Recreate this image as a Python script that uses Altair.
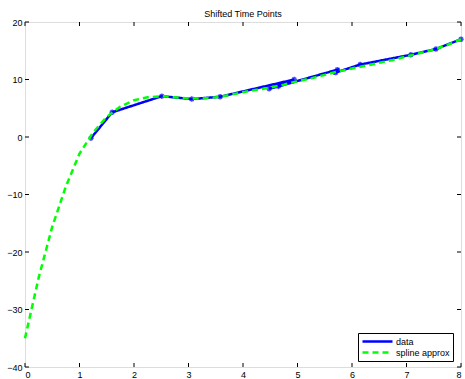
import altair as alt
import pandas as pd

# data series (shifted time points, not sorted)
data_t = [1.21, 1.60, 2.51, 3.06, 3.58, 4.94, 4.48, 4.65, 5.73, 5.70, 6.15, 7.08, 7.54, 8.00]
data_y = [-0.2, 4.3, 7.1, 6.6, 7.0, 10.0, 8.4, 8.8, 11.7, 11.2, 12.6, 14.3, 15.3, 17.0]

# spline approximation
spl_t = [0, 0.25, 0.5, 0.75, 1.0, 1.25, 1.5, 1.75, 2.0, 2.25, 2.5, 2.75, 3.0, 3.25,
         3.5, 3.75, 4.0, 4.25, 4.5, 4.75, 5.0, 5.25, 5.5, 5.75, 6.0, 6.25, 6.5,
         6.75, 7.0, 7.25, 7.5, 7.75, 8.0]
spl_y = [-35.0, -24.5, -15.6, -8.6, -2.9, 0.8, 3.5, 5.3, 6.4, 6.9, 7.1, 6.9, 6.7,
         6.7, 6.9, 7.3, 7.8, 8.2, 8.6, 9.1, 9.7, 10.2, 10.8, 11.4, 11.9, 12.4,
         12.9, 13.4, 14.0, 14.6, 15.2, 16.0, 17.0]

x_ticks = [0, 1, 2, 3, 4, 5, 6, 7, 8]
y_ticks = [-40, -30, -20, -10, 0, 10, 20]
series = ["data", "spline approx"]
colors = ["#0000ff", "#00ff00"]

W, H = 436, 345

df_data = pd.DataFrame({"t": data_t, "y": data_y, "s": "data", "i": list(range(len(data_t)))})
df_spl = pd.DataFrame({"t": spl_t, "y": spl_y, "s": "spline approx", "i": list(range(len(spl_t)))})
df_xt = pd.DataFrame({"t": x_ticks})
df_yt = pd.DataFrame({"y": y_ticks})

xs = alt.Scale(domain=[0, 8], nice=False, zero=False)
ys = alt.Scale(domain=[-40, 20], nice=False, zero=False)

xax = alt.Axis(values=x_ticks, grid=False, domain=False, ticks=False, labelPadding=3,
               labelFontSize=9, labelFont="Liberation Sans", labelColor="black", title=None)
yax = alt.Axis(values=y_ticks, grid=False, domain=False, ticks=False, labelPadding=3,
               labelFontSize=9, labelFont="Liberation Sans", labelColor="black", title=None)

color = alt.Color("s:N", scale=alt.Scale(domain=series, range=colors),
                  legend=alt.Legend(title=None, orient="none", legendX=333, legendY=311,
                                    symbolType="stroke", symbolSize=900, symbolStrokeWidth=2.5,
                                    clipHeight=11, labelFontSize=9, labelFont="Liberation Sans",
                                    labelColor="black",
                                    fillColor="white", strokeColor="black", padding=3,
                                    rowPadding=0, labelOffset=2))
dash = alt.StrokeDash("s:N", scale=alt.Scale(domain=series, range=[[1, 0], [6, 4]]),
                      legend=None)

data_line = alt.Chart(df_data).mark_line(strokeWidth=2.5).encode(
    x=alt.X("t:Q", scale=xs, axis=xax),
    y=alt.Y("y:Q", scale=ys, axis=yax),
    color=color,
    strokeDash=dash,
    order=alt.Order("i:Q"),
)
asterisk = "M-1,0L1,0M0,-1L0,1M-0.7,-0.7L0.7,0.7M-0.7,0.7L0.7,-0.7"
data_pts = alt.Chart(df_data).mark_point(shape=asterisk, size=30, filled=False,
                                         strokeWidth=1.5, color="#0000ff").encode(
    x=alt.X("t:Q", scale=xs), y=alt.Y("y:Q", scale=ys))
spl_line = alt.Chart(df_spl).mark_line(strokeWidth=2.5).encode(
    x=alt.X("t:Q", scale=xs),
    y=alt.Y("y:Q", scale=ys),
    color=color,
    strokeDash=dash,
    order=alt.Order("i:Q"),
)

tick_len = 4
bt = alt.Chart(df_xt).mark_rule(color="black", strokeWidth=1).encode(
    x=alt.X("t:Q", scale=xs), y=alt.value(H), y2=alt.value(H - tick_len))
tt = alt.Chart(df_xt).mark_rule(color="black", strokeWidth=1).encode(
    x=alt.X("t:Q", scale=xs), y=alt.value(0), y2=alt.value(tick_len))
lt = alt.Chart(df_yt).mark_rule(color="black", strokeWidth=1).encode(
    y=alt.Y("y:Q", scale=ys), x=alt.value(0), x2=alt.value(tick_len))
rt = alt.Chart(df_yt).mark_rule(color="black", strokeWidth=1).encode(
    y=alt.Y("y:Q", scale=ys), x=alt.value(W), x2=alt.value(W - tick_len))

chart = alt.layer(bt, tt, lt, rt, data_line, data_pts, spl_line).properties(
    width=W, height=H,
    title=alt.TitleParams("Shifted Time Points", fontSize=9, font="Liberation Sans",
                          fontWeight="normal", color="black", offset=-1),
    autosize=alt.AutoSizeParams(type="none"),
    padding={"left": 25, "top": 22, "right": 4, "bottom": 12},
).configure_view(stroke="black", strokeWidth=1).configure(background="white")

chart.save("out.html", embed_options={"renderer": "svg", "actions": False})
